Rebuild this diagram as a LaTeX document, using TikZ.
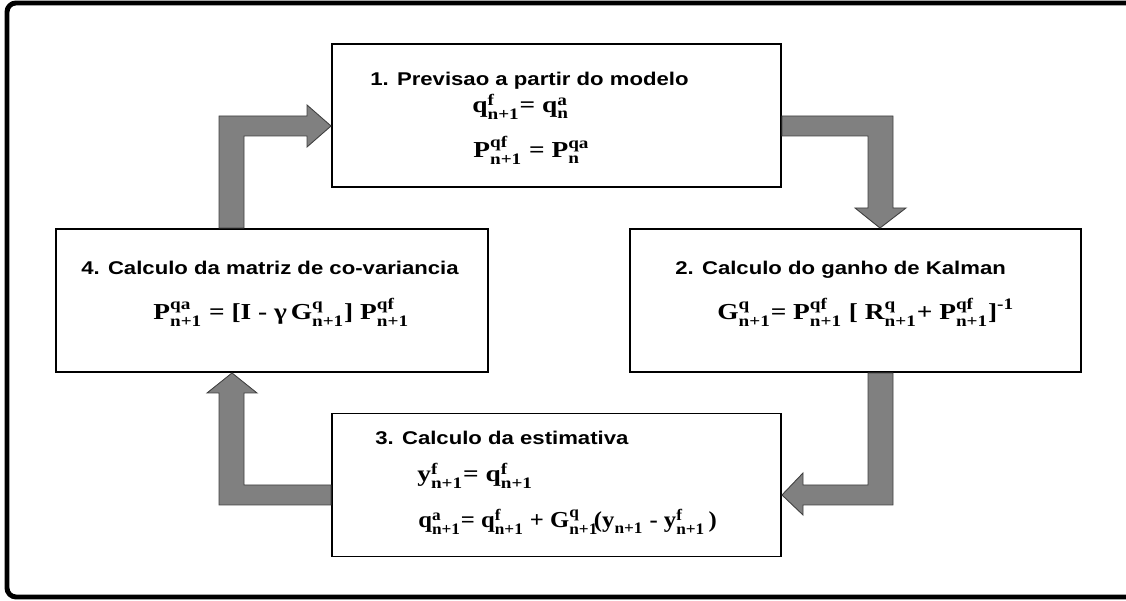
\documentclass[tikz,border=0pt]{standalone}
\usepackage{amsmath}
\usepackage{fontspec}
\newfontfamily\titlefont[FakeStretch=1.2]{Liberation Sans}
\newfontfamily\formfont[FakeStretch=1.2]{Liberation Serif}
\newcommand{\sx}[3]{\text{#1}^{\text{#2}}_{\text{#3}}}

\begin{document}
\begin{tikzpicture}[
 box/.style={draw, line width=1.1pt, minimum height=2.86cm},
 title/.style={anchor=base west, inner sep=0pt, font=\titlefont\bfseries\fontsize{10.5}{12}\selectfont},
 formula/.style={anchor=base west, inner sep=0pt, font=\formfont\bfseries\fontsize{13}{15}\selectfont},
 blockarrow/.style={draw=black!75, line width=0.5pt, fill=black!50, line join=miter}]
 \useasboundingbox (0,0) rectangle (22.52,12.02);
 \draw [line width=2.8pt, rounded corners=0.18cm] (23.2,11.96) -- (0.14,11.96) -- (0.14,0.08) -- (23.2,0.08);

 \node [box, minimum width=8.98cm] (b1) at (11.13,9.71) {};
 \node [box, minimum width=9.02cm] (b2) at (17.11,6.01) {};
 \node [box, minimum width=8.98cm] (b3) at (11.13,2.32) {};
 \node [box, minimum width=8.64cm] (b4) at (5.44,6.01) {};

 \node [title] (t1) at (7.40,10.30) {1. Previsao a partir do modelo};
 \node [formula] (f1a) at (9.44,9.76) {$\sx{q}{f}{n+1}\text{= }\sx{q}{a}{n}$};
 \node [formula] (f1b) at (9.46,8.86) {$\sx{P}{qf}{n+1}\text{ = }\sx{P}{qa}{n}$};

 \node [title] (t2) at (13.50,6.52) {2. Calculo do ganho de Kalman};
 \node [formula] (f2) at (14.34,5.62) {$\sx{G}{q}{n+1}\text{= }\sx{P}{qf}{n+1}\text{ [ }\sx{R}{q}{n+1}\text{+ }\sx{P}{qf}{n+1}\text{]}^{\text{-1}}$};

 \node [title] (t3) at (7.50,3.12) {3. Calculo da estimativa};
 \node [formula] (f3a) at (8.34,2.38) {$\sx{y}{f}{n+1}\text{= }\sx{q}{f}{n+1}$};
 \node [formula, xscale=0.9, transform shape] (f3b) at (8.36,1.46) {$\sx{q}{a}{n+1}\text{= }\sx{q}{f}{n+1}\text{ + }\sx{G}{q}{n+1}\mkern-4mu\text{(}\text{y}_{\text{n+1}}\text{ - }\sx{y}{f}{n+1}\text{\,)}$};

 \node [title] (t4) at (1.62,6.52) {4. Calculo da matriz de co-variancia};
 \node [formula] (f4) at (3.06,5.62) {$\sx{P}{qa}{n+1}\text{ = [I - γ\,}\sx{G}{q}{n+1}\text{] }\sx{P}{qf}{n+1}$};

 \draw [blockarrow] ([xshift=-0.56cm]b4.north) -- (4.88,9.30) -- (6.14,9.30) -- (6.14,9.08)
  -- ([yshift=-0.21cm]b1.west) -- (6.14,9.92) -- (6.14,9.70) -- (4.38,9.70) -- ([xshift=-1.06cm]b4.north) -- cycle;
 \draw [blockarrow] ([yshift=-0.01cm]b1.east) -- (17.86,9.70) -- (17.86,7.86) -- (18.12,7.86)
  -- ([xshift=0.49cm]b2.north) -- (17.10,7.86) -- (17.36,7.86) -- (17.36,9.30) -- ([yshift=-0.41cm]b1.east) -- cycle;
 \draw [blockarrow] ([xshift=0.25cm]b2.south) -- (17.36,2.32) -- (16.06,2.32) -- (16.06,2.56)
  -- ([yshift=-0.2cm]b3.east) -- (16.06,1.72) -- (16.06,1.92) -- (17.86,1.92) -- ([xshift=0.75cm]b2.south) -- cycle;
 \draw [blockarrow] (b3.west) -- (4.88,2.32) -- (4.88,4.16) -- (5.14,4.16)
  -- ([xshift=-0.8cm]b4.south) -- (4.14,4.16) -- (4.38,4.16) -- (4.38,1.92) -- ([yshift=-0.4cm]b3.west) -- cycle;
\end{tikzpicture}
\end{document}
